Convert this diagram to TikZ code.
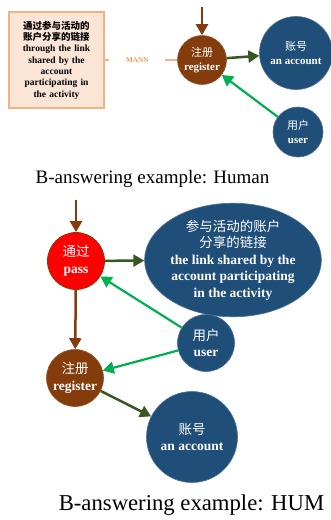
\documentclass[tikz,border=0pt]{standalone}
\usepackage{fontspec}
\setmainfont{Liberation Serif}
\newfontfamily\cjk{Noto Sans CJK SC}
\usetikzlibrary{arrows.meta,shapes.geometric}
\definecolor{dblue}{HTML}{1F4E79}
\definecolor{brownc}{HTML}{843C0C}
\definecolor{dgreen}{HTML}{385723}
\definecolor{bgreen}{HTML}{00B050}
\definecolor{peach}{HTML}{FBE5D6}
\definecolor{peachline}{HTML}{F4B183}
\definecolor{mannc}{HTML}{F29A5E}
\definecolor{redc}{HTML}{FF0000}
\newcommand{\zh}{\cjk\mdseries}
\newcommand{\en}{\rmfamily\bfseries}
\tikzset{
  bluenode/.style={circle, fill=dblue, draw=dblue!80!white, line width=0.6pt, text=white, align=center, inner sep=0pt},
  brownnode/.style={circle, fill=brownc, draw=brownc!85!white, line width=0.6pt, text=white, align=center, inner sep=0pt},
  rednode/.style={circle, fill=redc, draw=brownc, line width=0.8pt, text=white, align=center, inner sep=0pt},
  ellnode/.style={ellipse, fill=dblue, draw=dblue!80!white, line width=0.6pt, text=white, align=center, inner sep=0pt},
  smallfont/.style={font=\bfseries\fontsize{11}{13.5}\selectfont},
  bigfont/.style={font=\bfseries\fontsize{13.5}{16.5}\selectfont},
  tip/.style={-{Triangle[length=11pt,width=12pt]}, line width=2.5pt},
  brownarrow/.style={tip, draw=brownc},
  dgarrow/.style={tip, draw=dgreen},
  bgarrow/.style={tip, draw=bgreen, line width=2.2pt},
  peachbox/.style={rectangle, fill=peach, draw=peachline, line width=1.2pt, minimum width=95pt, minimum height=96pt, text width=85pt, align=center, font=\bfseries\fontsize{9.5}{11.3}\selectfont, inner sep=0pt},
  caption/.style={anchor=base, inner sep=0pt}
}
\begin{document}
\begin{tikzpicture}[x=1pt,y=-1pt]
\useasboundingbox (0,0) rectangle (331,520);

% ---------- top part ----------
\node[peachbox] (box) at (56.5,60) {\cjk 通过参与活动的\\\cjk 账户分享的链接\\\rmfamily through the link\\shared by the\\account\\participating in\\the activity};
\node[brownnode, minimum size=49pt, smallfont] (reg1) at (202,60) {\zh 注册\\\en register};
\node[bluenode, minimum size=73pt, smallfont] (acc1) at (296,53) {\zh 账号\\\en an account};
\node[bluenode, minimum size=50pt, smallfont] (user1) at (298,132) {\zh 用户\\\en user};
\coordinate (top1) at (202,7);

\draw[peachline, line width=1.2pt] (box.east) -- node[pos=0.45, fill=white, inner xsep=17pt, inner ysep=2pt, text=mannc, font=\bfseries\fontsize{7.2}{8}\selectfont] {MANN} (reg1.west);
\draw[brownarrow] (top1) -- (reg1.north);
\draw[dgarrow] (reg1) -- (acc1);
\draw[bgarrow] (user1) -- (reg1);

\node[caption, font=\fontsize{19}{22}\selectfont] (cap1) at (152.5,183) {B-answering example: Human};

% ---------- bottom part ----------
\node[rednode, minimum size=57pt, bigfont] (pass) at (76,261) {\zh 通过\\\en pass};
\node[ellnode, minimum width=164pt, minimum height=100pt, bigfont] (link) at (233,260) {\zh 参与活动的账户\\\zh 分享的链接\\\en the link shared by the\\account participating\\in the activity};
\node[bluenode, minimum size=57pt, bigfont] (user2) at (206,343) {\zh 用户\\\en user};
\node[brownnode, minimum size=57pt, bigfont] (reg2) at (75,378) {\zh 注册\\\en register};
\node[bluenode, minimum size=91pt, bigfont] (acc2) at (192,437) {\zh 账号\\\en an account};
\coordinate (top2) at (76,200);

\draw[brownarrow] (top2) -- (pass.north);
\draw[dgarrow] (pass) -- (link);
\draw[bgarrow] (user2) -- (pass);
\draw[bgarrow] (user2) -- (reg2);
\draw[brownarrow] (pass) -- (reg2);
\draw[dgarrow] (reg2) -- (acc2);

\node[caption, font=\fontsize{22.7}{26}\selectfont] (cap2) at (191.5,510) {B-answering example: HUM};
\end{tikzpicture}
\end{document}
